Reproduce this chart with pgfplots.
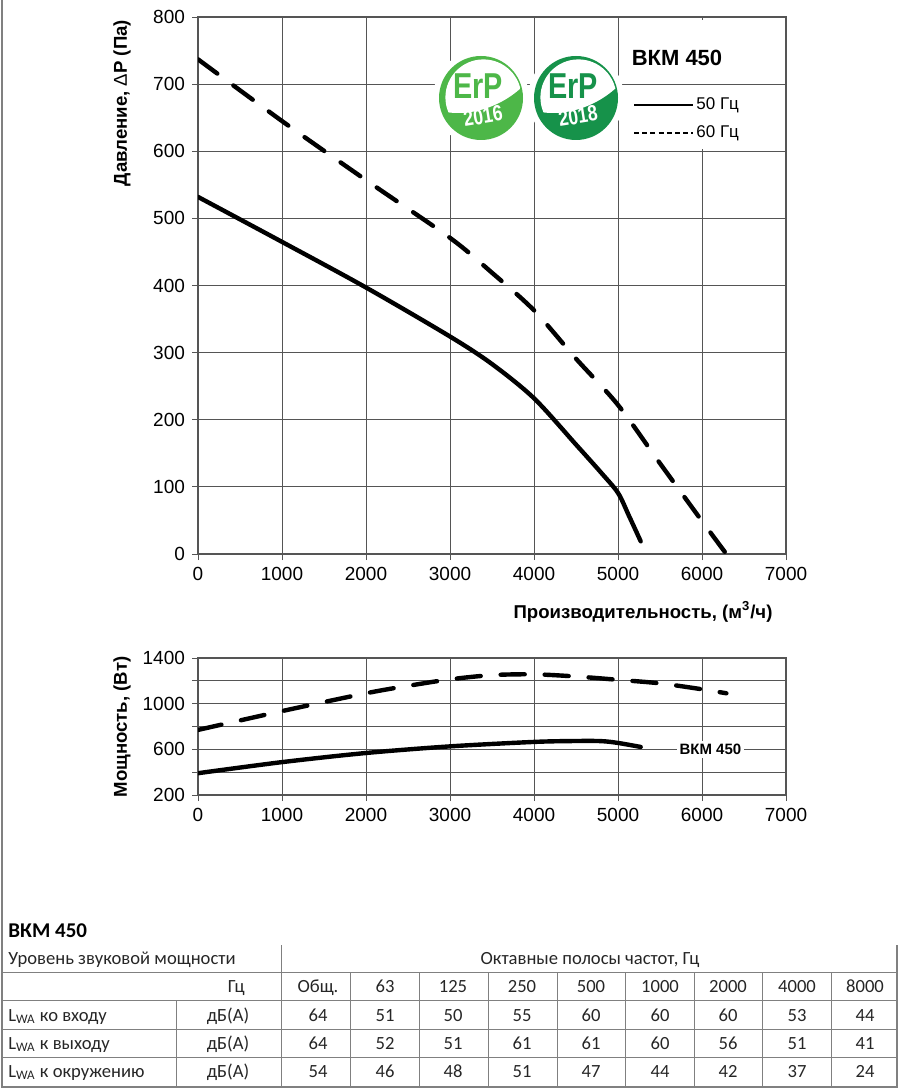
\documentclass[border=0pt]{standalone}
\usepackage{fontspec}
\setmainfont{Liberation Sans}
\newfontfamily\tabfont{Carlito}
\newfontfamily\logofont[FakeStretch=0.8]{Liberation Sans}
\usepackage{pgfplots}
\pgfplotsset{compat=1.18}

\definecolor{erpA}{HTML}{4DB748}
\definecolor{erpB}{HTML}{16924A}
\definecolor{gridc}{HTML}{555555}
\definecolor{tabc}{HTML}{808080}

\newcommand{\ticksize}{\fontsize{9.5}{11}\selectfont}
\newcommand{\labsize}{\bfseries\fontsize{9.3}{11}\selectfont}

\newcommand{\erplogo}[4]{%
\begin{scope}[shift={(#1,#2)},x=1pt,y=1pt]
 \fill[white] (0,0) circle[radius=24pt];
 \fill[#3] (0,0) circle[radius=21pt];
 \begin{scope}
  \clip (1.2,0.3) circle[radius=19pt];
  \fill[white] (-25,-5) .. controls (-10,-11) and (10,-6) .. (23,8) -- (25,25) -- (-25,25) -- cycle;
 \end{scope}
 \node[text=#3, font=\logofont\bfseries\fontsize{18}{18}\selectfont, inner sep=0pt] at (-1.5,6) {ErP};
 \node[text=white, font=\logofont\bfseries\fontsize{11}{11}\selectfont, inner sep=0pt, rotate=9] at (1,-9) {#4};
\end{scope}}

\pgfplotsset{
  mystyle/.style={
    scale only axis,
    width=294pt,
    xmin=0, xmax=7000,
    xtick={0,1000,...,7000},
    scaled x ticks=false, scaled y ticks=false,
    grid=major,
    grid style={gridc, line width=0.5pt},
    axis line style={gridc, line width=0.6pt},
    tick style={gridc, line width=0.5pt},
    tick align=outside,
    major tick length=3pt,
    xtick pos=left, ytick pos=left,
    /pgf/number format/assume math mode=true,
    /pgf/number format/1000 sep={},
    ticklabel style={font=\ticksize},
  },
  curve/.style={black, line width=2.2pt, smooth, tension=0.5, line cap=round},
  dcurve/.style={black, line width=2.2pt, smooth, tension=0.5, line cap=round, dash pattern=on 12pt off 10pt},
}

\begin{document}
\begin{tikzpicture}
\useasboundingbox (0pt,0pt) rectangle (450pt,-545pt);

% ---------- upper axis ----------
\begin{axis}[mystyle,
  at={(99pt,-277pt)}, anchor=south west,
  height=268.5pt,
  ymin=0, ymax=800,
  ytick={0,100,...,800},
]
\addplot[curve] coordinates {
(0,532) (1000,465) (2000,397) (3000,324) (3500,283) (4000,232)
(4500,163) (4800,121) (5000,91) (5130,57) (5270,19)
};
\addplot[dcurve] coordinates {
(0,737) (1000,645) (2000,557) (3000,471) (3500,419) (4000,363)
(4500,291) (5000,222) (5500,135) (6000,49) (6290,0)
};
\fill[white] (axis cs:5018,604) rectangle (axis cs:6982,796);
\draw[gridc, line width=0.5pt] (axis cs:5000,700) -- (axis cs:7000,700);
\end{axis}

% ---------- lower axis ----------
\begin{axis}[mystyle,
  at={(99pt,-397.5pt)}, anchor=south west,
  height=68.5pt,
  ymin=200, ymax=1400,
  ytick={200,400,...,1400},
  yticklabels={200,,600,,1000,,1400},
]
\addplot[curve] coordinates {
(0,391) (1000,488) (2000,568) (3000,626) (4000,665) (4500,673)
(4800,672) (5000,656) (5270,621)
};
\addplot[dcurve] coordinates {
(0,770) (1000,935) (2000,1091) (2500,1156) (3000,1213)
(3500,1250) (4000,1257) (4500,1238) (5000,1209) (5500,1178)
(6000,1126) (6290,1091)
};
\node[fill=white, font=\bfseries\fontsize{7.5}{9}\selectfont, inner sep=1.5pt] at (axis cs:6100,600) {ВКМ 450};
\end{axis}

% ---------- decorations in pixel coordinates ----------
\begin{scope}[x=0.5pt, y=-0.5pt]
 % axis labels
 \node[rotate=90, font=\labsize] at (122,103) {Давление, {\mdseries Δ}P (Па)};
 \node[font=\labsize] at (643,612) {Производительность, (м\textsuperscript{3}/ч)};
 \node[rotate=90, font=\labsize] at (122,727) {Мощность, (Вт)};

 % logos
 \erplogo{481}{98}{erpA}{2016}
 \erplogo{576}{98}{erpB}{2018}

 % legend
 \node[font=\bfseries\fontsize{11}{13}\selectfont] at (677,58) {ВКМ 450};
 \draw[line width=0.7pt] (634,105) -- (693,105);
 \node[anchor=west, font=\fontsize{8.5}{10}\selectfont, inner sep=1pt] at (694,105) {50 Гц};
 \draw[line width=0.7pt, dash pattern=on 2.5pt off 1.6pt] (634,133) -- (693,133);
 \node[anchor=west, font=\fontsize{8.5}{10}\selectfont, inner sep=1pt] at (694,133) {60 Гц};

 % frame
 \draw[tabc, line width=0.6pt] (2,0) -- (2,1087) -- (897,1087) -- (897,945);

 % table lines
 \begin{scope}[tabc, line width=0.5pt]
  \draw (281,945) -- (281,1087);
  \draw (2,972) -- (897,972);
  \draw (2,1000) -- (897,1000);
  \draw (2,1029) -- (897,1029);
  \draw (2,1057) -- (897,1057);
  \draw (176,1000) -- (176,1087);
  \foreach \xx in {350,419,488,557,625,694,762,831} { \draw (\xx,972) -- (\xx,1087); }
 \end{scope}

 % table text (baselines = row centre + 6px)
 \begin{scope}[font=\tabfont\fontsize{9.3}{11}\selectfont, text=black!85, every node/.append style={inner sep=0pt}]
  \node[anchor=base west, font=\tabfont\bfseries\fontsize{10.5}{12}\selectfont, text=black] at (8,937) {ВКМ 450};
  \node[anchor=base west] at (8,964) {Уровень звуковой мощности};
  \node[anchor=base] at (590,964) {Октавные полосы частот, Гц};
  \node[anchor=base east] at (245,992) {Гц};
  \foreach \cx/\t in {318/Общ.,385/63,453/125,522/250,591/500,660/1000,728/2000,797/4000,865/8000}
    { \node[anchor=base] at (\cx,992) {\t}; }
  \node[anchor=base west] at (8,1021) {L\textsubscript{WA} ко входу};
  \node[anchor=base west] at (8,1049) {L\textsubscript{WA} к выходу};
  \node[anchor=base west] at (8,1077) {L\textsubscript{WA} к окружению};
  \foreach \yy in {1021,1049,1077} { \node[anchor=base] at (228,\yy) {дБ(А)}; }
  \foreach \cx/\t in {318/64,385/51,453/50,522/55,591/60,660/60,728/60,797/53,865/44}
    { \node[anchor=base] at (\cx,1021) {\t}; }
  \foreach \cx/\t in {318/64,385/52,453/51,522/61,591/61,660/60,728/56,797/51,865/41}
    { \node[anchor=base] at (\cx,1049) {\t}; }
  \foreach \cx/\t in {318/54,385/46,453/48,522/51,591/47,660/44,728/42,797/37,865/24}
    { \node[anchor=base] at (\cx,1077) {\t}; }
 \end{scope}
\end{scope}
\end{tikzpicture}
\end{document}
